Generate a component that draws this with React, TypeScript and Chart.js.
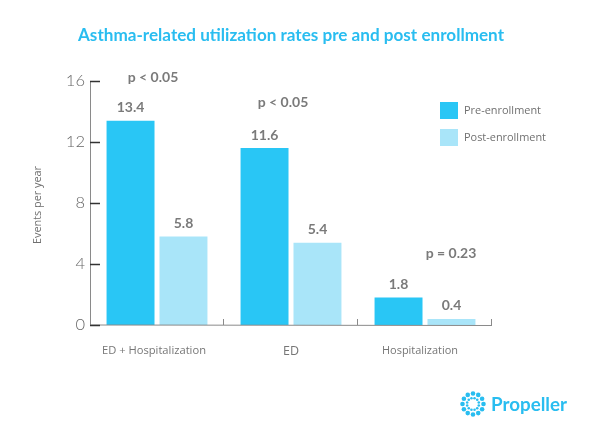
import React, { useEffect, useRef } from "react";
import { Chart, registerables } from "chart.js";

Chart.register(...registerables);

const categories = ["ED + Hospitalization", "ED", "Hospitalization"];
const seriesNames = ["Pre-enrollment", "Post-enrollment"];
const preValues = [13.4, 11.6, 1.8];
const postValues = [5.8, 5.4, 0.4];
const pLabels = ["p < 0.05", "p < 0.05", "p = 0.23"];
const pLabelValues = [16.2, 14.6, 4.7];
const yTicks = [0, 4, 8, 12, 16];

const PRE = "#29c6f5";
const POST = "#a9e5f9";
const TITLE = "#29bdf0";
const GRAY = "#707070";
const FONT = "Lato, 'Open Sans', sans-serif";
const FONT2 = "'Open Sans', Lato, sans-serif";

function fitFont(ctx: any, text: string, weight: string, target: number, fam: string = FONT) {
  ctx.font = `${weight} 20px ${fam}`;
  const w = ctx.measureText(text).width;
  const size = (20 * target) / w;
  ctx.font = `${weight} ${size.toFixed(2)}px ${fam}`;
}

const overlay = {
  id: "overlay",
  afterDraw(chart: any) {
    const ctx = chart.ctx;
    const x = chart.scales.x;
    const y = chart.scales.y;
    const area = chart.chartArea;
    ctx.save();
    // axes lines
    ctx.strokeStyle = "#8a8a8a";
    ctx.lineWidth = 1;
    ctx.beginPath();
    ctx.moveTo(area.left + 0.5, y.getPixelForValue(16));
    ctx.lineTo(area.left + 0.5, y.getPixelForValue(0));
    ctx.lineTo(area.right, y.getPixelForValue(0) + 0.5);
    ctx.stroke();
    // category ticks
    const n = categories.length;
    for (let i = 1; i <= n; i++) {
      const px = Math.round(area.left + ((area.right - area.left) * i) / n) - 0.5;
      ctx.beginPath();
      ctx.moveTo(px, y.getPixelForValue(0));
      ctx.lineTo(px, y.getPixelForValue(0) - 6);
      ctx.stroke();
    }
    // y ticks
    ctx.strokeStyle = "#333";
    ctx.lineWidth = 1.5;
    yTicks.forEach((v) => {
      const py = Math.round(y.getPixelForValue(v)) + 0.5;
      ctx.beginPath();
      ctx.moveTo(area.left, py);
      ctx.lineTo(area.left + 10, py);
      ctx.stroke();
    });
    // value labels
    ctx.fillStyle = "#7a7a7a";
    ctx.font = `bold 14px ${FONT}`;
    ctx.textAlign = "center";
    ctx.textBaseline = "middle";
    chart.data.datasets.forEach((ds: any, di: number) => {
      const meta = chart.getDatasetMeta(di);
      meta.data.forEach((bar: any, i: number) => {
        ctx.fillText(ds.data[i].toFixed(1), bar.x, bar.y - 13);
      });
    });
    // p labels
    const pOffsets = [-4, -8, 26];
    pLabels.forEach((t, i) => {
      const cx = x.getPixelForValue(i) + pOffsets[i];
      ctx.fillText(t, cx, y.getPixelForValue(pLabelValues[i]));
    });
    // category labels
    ctx.fillStyle = "#767676";
    const catWidths = [104, 17, 76];
    const catShift = [-3, 0, -5];
    categories.forEach((c, i) => {
      fitFont(ctx, c, "normal", catWidths[i], FONT2);
      if (i === 1) ctx.font = `normal 12.5px ${FONT2}`;
      ctx.fillText(c, x.getPixelForValue(i) + catShift[i], 351);
    });
    // legend
    ctx.textAlign = "left";
    [PRE, POST].forEach((c, i) => {
      const ly = 102 + i * 27;
      ctx.fillStyle = c;
      ctx.fillRect(440, ly, 18, 17);
      ctx.fillStyle = GRAY;
      fitFont(ctx, seriesNames[i], "normal", i === 0 ? 77 : 82, FONT2);
      ctx.fillText(seriesNames[i], 464, ly + 9);
    });
    // title
    ctx.fillStyle = TITLE;
    fitFont(ctx, "Asthma-related utilization rates pre and post enrollment", "bold", 426);
    ctx.textAlign = "center";
    ctx.fillText("Asthma-related utilization rates pre and post enrollment", 291, 35);
    // y axis title
    ctx.save();
    ctx.translate(38, 205);
    ctx.rotate(-Math.PI / 2);
    ctx.fillStyle = GRAY;
    fitFont(ctx, "Events per year", "normal", 78, FONT2);
    ctx.fillText("Events per year", 0, 0);
    ctx.restore();
    // logo
    const lx = 473, ly = 404;
    ctx.fillStyle = TITLE;
    for (let k = 0; k < 12; k++) {
      const a = (k * Math.PI * 2) / 12;
      ctx.beginPath();
      ctx.arc(lx + Math.cos(a) * 10.5, ly + Math.sin(a) * 10.5, 2.3, 0, Math.PI * 2);
      ctx.fill();
    }
    for (let k = 0; k < 12; k++) {
      const a = (k * Math.PI * 2) / 12 + Math.PI / 12;
      ctx.beginPath();
      ctx.arc(lx + Math.cos(a) * 6, ly + Math.sin(a) * 6, 1.3, 0, Math.PI * 2);
      ctx.fill();
    }
    fitFont(ctx, "Propeller", "bold", 76);
    ctx.textAlign = "left";
    ctx.fillText("Propeller", 491, 405);
    ctx.restore();
  },
};

export default function App() {
  const ref = useRef<HTMLCanvasElement | null>(null);
  useEffect(() => {
    document.body.style.margin = "0";
    const chart = new Chart(ref.current as HTMLCanvasElement, {
      type: "bar",
      data: {
        labels: categories,
        datasets: [
          { label: seriesNames[0], data: preValues, backgroundColor: PRE, categoryPercentage: 0.79, barPercentage: 0.906 },
          { label: seriesNames[1], data: postValues, backgroundColor: POST, categoryPercentage: 0.79, barPercentage: 0.906 },
        ],
      },
      options: {
        animation: false,
        responsive: false,
        layout: { padding: { left: 0, right: 108, top: 81, bottom: 0 } },
        plugins: { legend: { display: false }, tooltip: { enabled: false }, title: { display: false } },
        scales: {
          x: {
            grid: { display: false, drawTicks: false },
            border: { display: false },
            ticks: { display: false },
            afterFit: (s: any) => { s.height = 114; },
          },
          y: {
            min: 0,
            max: 16,
            grid: { display: false, drawTicks: false },
            border: { display: false },
            ticks: { stepSize: 4, color: "#666", font: { family: FONT, size: 16.5, weight: "300" }, padding: 5 },
            afterFit: (s: any) => { s.width = 90; },
          },
        },
      },
      plugins: [overlay],
    });
    return () => chart.destroy();
  }, []);
  return (
    <div style={{ width: 600, height: 439, background: "#fff" }}>
      <canvas ref={ref} width={600} height={439} />
    </div>
  );
}
